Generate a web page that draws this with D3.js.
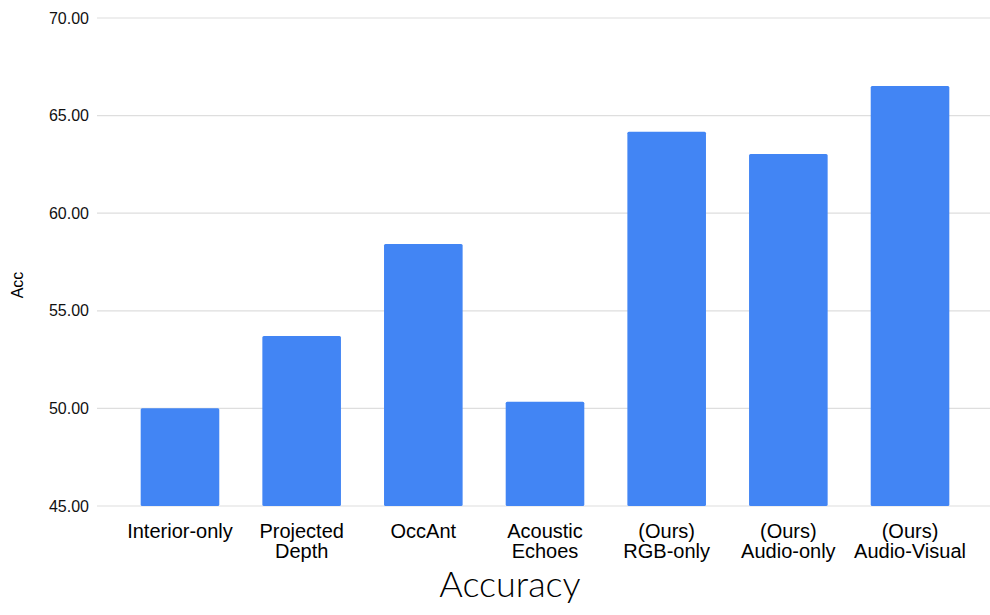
<!DOCTYPE html>
<html>
<head>
<meta charset="utf-8">
<script src="https://cdn.jsdelivr.net/npm/d3@7"></script>
<style>
  html, body { margin: 0; padding: 0; background: #fff; }
  svg { display: block; }
</style>
</head>
<body>
<svg id="chart" width="990" height="615"></svg>
<script>
const categories = [
  ["Interior-only"],
  ["Projected", "Depth"],
  ["OccAnt"],
  ["Acoustic", "Echoes"],
  ["(Ours)", "RGB-only"],
  ["(Ours)", "Audio-only"],
  ["(Ours)", "Audio-Visual"]
];
const accValues = [50.01, 53.71, 58.42, 50.34, 64.17, 63.03, 66.52];
const yTicks = [45, 50, 55, 60, 65, 70];
const yTitle = "Acc";
const chartTitle = "Accuracy";

const svg = d3.select("#chart");
const W = 990, H = 615;

const keys = categories.map(c => c.join(" "));
const x = d3.scaleBand().domain(keys).range([97, 993]).paddingInner(0.354).paddingOuter(0.359);
const y = d3.scaleLinear().domain([45, 70]).range([506, 18]);

// gridlines
svg.append("g").selectAll("line").data(yTicks).join("line")
  .attr("x1", 97).attr("x2", W)
  .attr("y1", d => y(d)).attr("y2", d => y(d))
  .attr("stroke", "#dedede").attr("stroke-width", 1.2);

// y tick labels
const yAxis = d3.axisLeft(y).tickValues(yTicks).tickFormat(d3.format(".2f")).tickSize(0).tickPadding(8);
const yg = svg.append("g").attr("transform", "translate(97,0)").call(yAxis);
yg.select(".domain").remove();
yg.selectAll("text")
  .attr("font-family", "Liberation Sans, Arial, sans-serif")
  .attr("font-size", 16).attr("fill", "#111");

// bars
svg.append("g").selectAll("rect").data(accValues).join("rect")
  .attr("x", (d, i) => x(keys[i]))
  .attr("width", x.bandwidth())
  .attr("y", d => y(d))
  .attr("height", d => y(45) - y(d))
  .attr("rx", 1.5)
  .attr("fill", "#4285F4");

// x labels
const xl = svg.append("g").selectAll("text").data(categories).join("text")
  .attr("text-anchor", "middle")
  .attr("font-family", "Liberation Sans, Arial, sans-serif")
  .attr("font-size", 20).attr("fill", "#000")
  .attr("transform", (d, i) => `translate(${x(keys[i]) + x.bandwidth() / 2},538)`);
xl.selectAll("tspan").data(d => d).join("tspan")
  .attr("x", 0).attr("dy", (d, i) => i === 0 ? 0 : 20)
  .text(d => d);

// y title
svg.append("text")
  .attr("transform", "translate(23,285) rotate(-90)")
  .attr("text-anchor", "middle")
  .attr("font-family", "Liberation Sans, Arial, sans-serif")
  .attr("font-size", 16).attr("fill", "#000")
  .text(yTitle);

// chart title
svg.append("text")
  .attr("x", 510).attr("y", 597)
  .attr("text-anchor", "middle")
  .attr("font-family", "Lato, sans-serif")
  .attr("font-weight", 300)
  .attr("font-size", 36).attr("fill", "#000")
  .text(chartTitle);
</script>
</body>
</html>
